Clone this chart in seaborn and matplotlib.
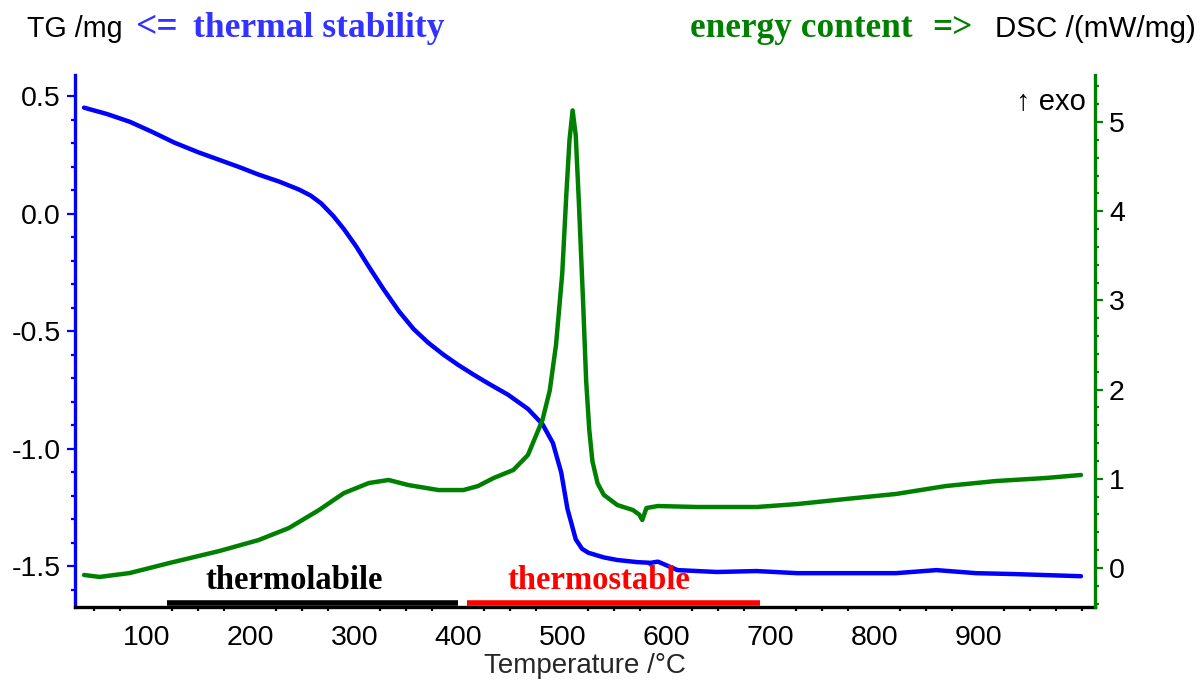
import numpy as np
import pandas as pd
import matplotlib
matplotlib.use("Agg")
import matplotlib.pyplot as plt
import seaborn as sns
from matplotlib.ticker import MultipleLocator

# ---------------- data ----------------
tg_temp = [40, 62, 84, 105, 127, 150, 170, 190, 208, 228, 247, 258, 268, 280, 290,
           302, 314, 328, 343, 357, 371, 386, 400, 415, 429, 448, 467, 481, 491,
           499, 505, 513, 519, 525, 540, 553, 572, 585, 592, 600, 611, 649, 687,
           726, 773, 821, 860, 898, 936, 999]
tg_mass = [0.452, 0.425, 0.392, 0.350, 0.303, 0.262, 0.230, 0.198, 0.167, 0.137,
           0.103, 0.078, 0.045, -0.010, -0.065, -0.140, -0.225, -0.320, -0.415,
           -0.490, -0.548, -0.600, -0.643, -0.685, -0.722, -0.770, -0.830, -0.895,
           -0.975, -1.100, -1.255, -1.385, -1.425, -1.442, -1.462, -1.473, -1.482,
           -1.485, -1.480, -1.495, -1.516, -1.524, -1.520, -1.529, -1.529, -1.529,
           -1.516, -1.529, -1.533, -1.542]

dsc_temp = [40, 55, 84, 122, 170, 208, 237, 266, 290, 314, 333, 352, 381, 405, 419,
            434, 453, 467, 481, 488, 494, 500, 504, 507, 510, 513, 516, 520, 523,
            526, 529, 534, 540, 553, 568, 574, 577, 581, 592, 630, 687, 726, 773,
            821, 869, 917, 965, 999]
dsc_val = [-0.078, -0.10, -0.056, 0.056, 0.19, 0.314, 0.448, 0.65, 0.84, 0.953,
           0.987, 0.93, 0.874, 0.874, 0.919, 1.009, 1.099, 1.267, 1.66, 1.99, 2.50,
           3.30, 4.20, 4.80, 5.13, 4.85, 4.10, 3.00, 2.10, 1.55, 1.20, 0.95, 0.82,
           0.706, 0.65, 0.60, 0.538, 0.673, 0.695, 0.684, 0.684, 0.717, 0.774, 0.83,
           0.919, 0.975, 1.009, 1.043]

x_ticks = [100, 200, 300, 400, 500, 600, 700, 800, 900]
tg_ticks = [0.5, 0.0, -0.5, -1.0, -1.5]
dsc_ticks = [0, 1, 2, 3, 4, 5]

region_labels = ["thermolabile", "thermostable"]
region_start = [120, 408]
region_end = [400, 690]
region_label_x = [242, 535]

# ---------------- style ----------------
sns.set_style("white")
plt.rcParams['font.family'] = ['Liberation Sans', 'DejaVu Sans']

BLUE = "#0000FF"
TBLUE = "#3333FF"
GREEN = "#008000"
RED = "#FF0000"

fig = plt.figure(figsize=(12.04, 6.8), dpi=100)
ax = fig.add_axes([75/1204, 1-607/680, (1095-75)/1204, (607-75)/680])
ax2 = ax.twinx()

tg = pd.DataFrame({"T": tg_temp, "TG": tg_mass})
dsc = pd.DataFrame({"T": dsc_temp, "DSC": dsc_val})

sns.lineplot(data=tg, x="T", y="TG", ax=ax, color=BLUE, lw=3.2, estimator=None, sort=False)
sns.lineplot(data=dsc, x="T", y="DSC", ax=ax2, color=GREEN, lw=3.2, estimator=None, sort=False)

ax.set_xlim(31.3, 1012.5)
ax.set_ylim(-1.673, 0.591)
ax2.set_ylim(-0.437, 5.527)

ax.set_xticks(x_ticks)
ax.xaxis.set_minor_locator(MultipleLocator(25))
ax.set_yticks(tg_ticks)
ax.set_yticklabels([f"{v:.1f}" for v in tg_ticks])
ax.yaxis.set_minor_locator(MultipleLocator(0.1))
ax2.set_yticks(dsc_ticks)
ax2.set_yticklabels([str(v) for v in dsc_ticks])
ax2.yaxis.set_minor_locator(MultipleLocator(0.2))

ax.set_xlabel("Temperature /°C", fontsize=20)
ax.xaxis.set_label_coords(0.5, (607 - 653) / 532)
ax.xaxis.label.set_va('top')
ax.set_ylabel("")
ax2.set_ylabel("")

for a in (ax, ax2):
    a.spines['top'].set_visible(False)
    a.grid(False)
ax.spines['right'].set_visible(False)
ax2.spines['left'].set_visible(False)
ax2.spines['bottom'].set_visible(False)
ax.spines['left'].set_color(BLUE)
ax.spines['left'].set_linewidth(2.4)
ax.spines['bottom'].set_color("black")
ax.spines['bottom'].set_linewidth(2.4)
ax2.spines['right'].set_color(GREEN)
ax2.spines['right'].set_linewidth(2.4)

ax.tick_params(axis='x', which='major', direction='out', length=6, width=1.6, colors='black', labelsize=20.5, pad=7)
ax.tick_params(axis='x', which='minor', direction='out', length=3, width=1.6, colors='black', bottom=True)
ax.tick_params(axis='y', which='major', direction='out', length=6, width=1.6, color=BLUE, labelcolor='black', labelsize=20.5, pad=4, left=True)
ax.tick_params(axis='y', which='minor', direction='out', length=3, width=1.6, color=BLUE, left=True)
ax2.tick_params(axis='y', which='major', direction='out', length=6, width=1.6, color=GREEN, labelcolor='black', labelsize=20.5, pad=4, right=True)
ax2.tick_params(axis='y', which='minor', direction='out', length=3, width=1.6, color=GREEN, right=True)

# region bars and labels
bar_colors = ["black", RED]
for lab, s, e, lx, c in zip(region_labels, region_start, region_end, region_label_x, bar_colors):
    ax.plot([s, e], [-1.655, -1.655], color=c, lw=4, solid_capstyle='butt')
    ax.text(lx, -1.625, lab, color=c, fontsize=23.5, fontweight='bold',
            family=['Liberation Serif'], ha='center', va='bottom')

# header texts
def ftext(px, py, s, **kw):
    fig.text(px/1204, 1-py/680, s, va='baseline', ha='left', **kw)

ftext(27, 37, "TG /mg", fontsize=20.6, color='black')
ftext(135, 37, "<=", fontsize=27, color=TBLUE, family=['Liberation Serif'], fontweight='bold')
ftext(193, 37, "thermal stability", fontsize=25.5, color=TBLUE, family=['Liberation Serif'], fontweight='bold')
ftext(690, 37, "energy content", fontsize=25.4, color=GREEN, family=['Liberation Serif'], fontweight='bold')
ftext(932, 37, "=>", fontsize=25.5, color=GREEN, family=['Liberation Serif'], fontweight='bold')
ftext(995, 37, "DSC /(mW/mg)", fontsize=21.3, color='black')
ftext(1016, 110, "↑ exo", fontsize=21, color='black', family=['Liberation Sans', 'DejaVu Sans'])

fig.savefig("out.png", dpi=100)
